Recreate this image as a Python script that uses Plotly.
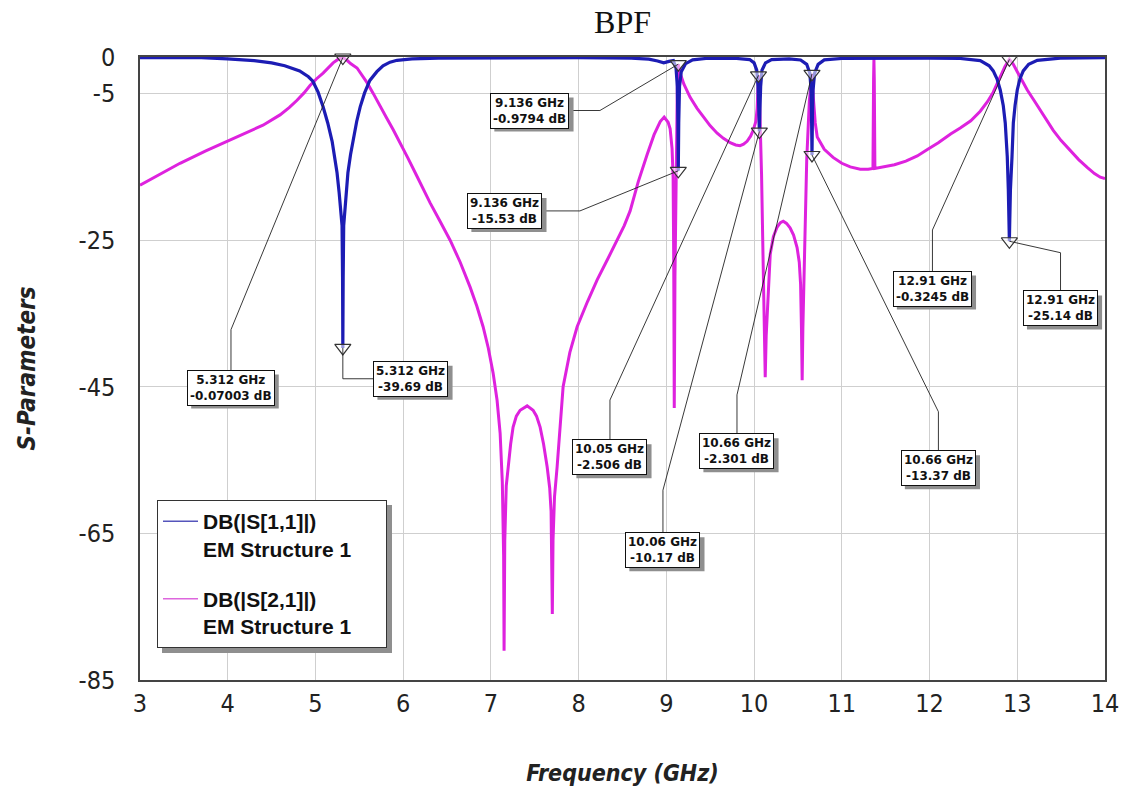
import plotly.graph_objects as go

# ---- S21 (transmission) ----
s21_freq = [3.00, 3.25, 3.456, 3.75, 4.026, 4.25, 4.402, 4.596, 4.70, 4.790, 4.87, 4.938, 5.01, 5.087,
            5.15, 5.201, 5.26, 5.312, 5.36, 5.40, 5.474, 5.53, 5.588, 5.66, 5.737, 5.81, 5.885, 5.965,
            6.05, 6.15, 6.307, 6.42, 6.535, 6.65, 6.763, 6.84, 6.911, 6.97, 7.025, 7.07, 7.105, 7.13,
            7.145, 7.150, 7.158, 7.175, 7.196, 7.225, 7.253, 7.29, 7.333, 7.413, 7.481, 7.52, 7.561,
            7.60, 7.641, 7.67, 7.686, 7.695, 7.700, 7.708, 7.725, 7.755, 7.79, 7.823, 7.90, 7.983,
            8.10, 8.211, 8.33, 8.439, 8.52, 8.587, 8.68, 8.781, 8.86, 8.93, 8.975, 9.02, 9.043, 9.065,
            9.077, 9.084, 9.090, 9.098, 9.11, 9.125, 9.136, 9.157, 9.20, 9.271, 9.35, 9.42, 9.50,
            9.579, 9.65, 9.727, 9.79, 9.84, 9.88, 9.92, 9.96, 9.99, 10.02, 10.035, 10.045, 10.05,
            10.058, 10.07, 10.085, 10.10, 10.115, 10.127, 10.138, 10.15, 10.165, 10.184, 10.22,
            10.263, 10.30, 10.332, 10.37, 10.41, 10.45, 10.49, 10.515, 10.530, 10.540, 10.548,
            10.556, 10.575, 10.60, 10.63, 10.66, 10.675, 10.697, 10.72, 10.80, 10.90, 11.00, 11.096,
            11.21, 11.30, 11.355, 11.362, 11.366, 11.370, 11.377, 11.472, 11.60, 11.73, 11.86, 11.98,
            12.10, 12.24, 12.35, 12.47, 12.578, 12.66, 12.726, 12.806, 12.86, 12.91, 12.95, 13.00,
            13.06, 13.114, 13.19, 13.262, 13.34, 13.41, 13.50, 13.604, 13.70, 13.80, 13.88, 13.946,
            14.00]
s21_db = [-17.5, -15.8, -14.5, -12.8, -11.3, -10.1, -9.3, -7.9, -6.9, -5.9, -4.9, -3.9, -3.0, -2.2,
          -1.4, -0.8, -0.3, -0.07003, -0.45, -0.9, -1.5, -2.4, -3.5, -5.0, -6.8, -8.3, -9.9, -11.7,
          -13.7, -16.1, -19.9, -22.4, -25.0, -28.0, -31.4, -34.0, -36.8, -39.7, -43.1, -46.8, -51.3, -58.0,
          -68.0, -81.0, -66.0, -58.5, -55.9, -52.8, -50.5, -49.0, -48.2, -47.6, -48.2, -49.0, -50.5,
          -52.8, -55.9, -58.8, -62.0, -68.0, -76.0, -66.0, -60.0, -55.9, -50.0, -45.0, -40.3, -36.8,
          -33.4, -30.4, -27.6, -25.0, -23.0, -21.0, -17.0, -13.3, -10.6, -8.8, -8.2, -8.9, -9.8, -12.5,
          -16.5, -28.0, -47.9, -30.0, -14.0, -4.0, -0.9794, -2.2, -3.7, -5.5, -7.0, -8.2, -9.4,
          -10.4, -11.1, -11.7, -12.0, -12.1, -11.9, -11.5, -10.8, -10.0, -8.8, -7.0, -4.5, -2.506,
          -4.0, -9.0, -16.0, -26.0, -36.0, -43.7, -38.0, -34.5, -30.0, -26.9, -24.5,
          -23.2, -22.6, -22.4, -22.7, -23.3, -24.3, -26.0, -28.0, -31.0, -37.0, -44.1,
          -37.0, -25.0, -14.0, -6.0, -2.301, -5.5, -9.0, -10.9, -12.6, -13.7, -14.5, -15.0,
          -15.3, -15.3, -15.2, -3.0, -0.3, -3.0, -15.2, -15.0, -14.7, -14.2, -13.5, -12.6,
          -11.7, -10.5, -9.7, -8.7, -7.4, -6.1, -4.8, -2.7, -1.3, -0.3245, -0.9, -2.0,
          -3.3, -4.5, -5.9, -7.3, -8.7, -10.0, -11.4, -12.8, -14.0, -15.1, -15.9, -16.4,
          -16.6]

# ---- S11 (reflection) ----
s11_freq = [3.00, 3.70, 4.00, 4.30, 4.50, 4.65, 4.82, 4.92, 4.97, 5.03, 5.087, 5.14, 5.19, 5.22, 5.246,
            5.27, 5.29, 5.303, 5.309, 5.312, 5.316, 5.322, 5.335, 5.352, 5.37, 5.40, 5.43, 5.47, 5.51,
            5.56, 5.62, 5.70, 5.77, 5.85, 5.93, 6.10, 6.40, 7.00, 8.00, 8.60, 8.80, 8.90, 8.97, 9.03,
            9.08, 9.11, 9.125, 9.132, 9.136, 9.141, 9.15, 9.17, 9.22, 9.30, 9.45, 9.80, 9.95, 10.00,
            10.03, 10.045, 10.053, 10.06, 10.067, 10.075, 10.09, 10.13, 10.20, 10.40, 10.53, 10.60,
            10.635, 10.65, 10.655, 10.66, 10.665, 10.672, 10.69, 10.73, 10.80, 11.00, 12.00, 12.35,
            12.578, 12.68, 12.726, 12.77, 12.806, 12.84, 12.863, 12.886, 12.898, 12.905, 12.91,
            12.915, 12.922, 12.94, 12.955, 12.975, 13.00, 13.03, 13.068, 13.13, 13.228, 13.49, 14.00]
s11_db = [-0.1, -0.1, -0.25, -0.5, -0.8, -1.2, -1.9, -2.7, -3.3, -4.8, -6.8, -9.0, -11.5, -13.5, -15.8,
          -18.5, -21.0, -23.0, -30.0, -39.69, -30.0, -23.0, -21.0, -18.5, -15.8, -13.3, -11.3, -8.8, -6.8,
          -4.9, -3.2, -2.0, -1.2, -0.7, -0.45, -0.25, -0.15, -0.1, -0.1, -0.15, -0.3, -0.55, -0.8, -0.6,
          -0.5, -1.5, -4.0, -9.0, -15.53, -9.0, -4.0, -2.0, -0.9, -0.4, -0.2, -0.2, -0.35, -0.8,
          -1.8, -4.0, -7.0, -10.17, -7.0, -4.0, -1.8, -0.8, -0.35, -0.25, -0.4, -1.0,
          -2.2, -4.5, -8.0, -13.37, -8.0, -4.5, -2.2, -1.0, -0.4, -0.2, -0.15, -0.2,
          -0.5, -1.2, -1.9, -3.0, -4.5, -6.6, -9.0, -13.6, -18.1, -22.0, -25.14,
          -22.0, -18.1, -13.6, -9.0, -6.6, -4.5, -3.0, -1.9, -1.0, -0.45, -0.15, -0.1]

# ---- markers ----
marker_freq = [5.312, 5.312, 9.136, 9.136, 10.05, 10.06, 10.66, 10.66, 12.91, 12.91]
marker_db = [-0.07003, -39.69, -0.9794, -15.53, -2.506, -10.17, -2.301, -13.37, -0.3245, -25.14]

x_ticks = [3, 4, 5, 6, 7, 8, 9, 10, 11, 12, 13, 14]
y_ticks = [0, -5, -25, -45, -65, -85]

# Readout box centre and leader elbow for each marker, in axis units
label_layout = [
    (4.037, -45.1, 4.037, -37.2),
    (6.089, -43.9, 5.312, -43.9),
    (7.445, -7.3, 8.243, -7.3),
    (7.160, -21.0, 8.015, -21.0),
    (8.357, -54.6, 8.357, -46.8),
    (8.961, -67.3, 8.961, -59.1),
    (9.805, -53.8, 9.805, -46.1),
    (12.101, -56.1, 12.101, -48.4),
    (12.033, -31.6, 12.033, -23.6),
    (13.493, -34.3, 13.493, -26.7),
]

BLUE = "#1c1cb4"
MAGENTA = "#de22de"
NARROW = "DejaVu Sans Condensed, Liberation Sans Narrow, sans-serif"
LABEL_SIZE = 12
SHADOW = "#8f8f8f"

# approximate advance widths (em) of DejaVu Sans Bold, used to size the readout shadows
ADV = {"0": .696, "1": .696, "2": .696, "3": .696, "4": .696, "5": .696, "6": .696, "7": .696,
       "8": .696, "9": .696, ".": .380, " ": .348, "G": .821, "H": .837, "z": .592, "-": .415,
       "d": .716, "B": .762}


def text_px(s):
    return sum(ADV.get(c, .65) for c in s) * LABEL_SIZE


fig = go.Figure()

fig.add_trace(go.Scatter(x=s21_freq, y=s21_db, mode="lines",
                         line=dict(color=MAGENTA, width=3), showlegend=False, hoverinfo="skip"))
fig.add_trace(go.Scatter(x=s11_freq, y=s11_db, mode="lines",
                         line=dict(color=BLUE, width=3.2), showlegend=False, hoverinfo="skip"))

# legend entries with thin line samples
pad = "&nbsp;" * 5
fig.add_trace(go.Scatter(x=[None], y=[None], mode="lines",
                         name="DB(|S[1,1]|)<br>EM Structure 1" + pad,
                         line=dict(color="#5555bb", width=1.5), legendgroup="a"))
fig.add_trace(go.Scatter(x=[None], y=[None], mode="lines",
                         name="DB(|S[2,1]|)<br>EM Structure 1" + pad,
                         line=dict(color="#dd66dd", width=1.5), legendgroup="b"))

shapes = []
annotations = []
for (fx, fy, ex, ey), mf, md in zip(label_layout, marker_freq, marker_db):
    line1 = f"{mf:.4g} GHz"
    line2 = f"{md:.4g} dB"
    shapes.append(dict(type="path", xref="x", yref="y", layer="above",
                       path=f"M{fx},{fy} L{ex},{ey} L{mf},{md}",
                       line=dict(color="#222222", width=0.9)))
    # drop shadow of the readout box, offset down-right
    w = max(text_px(line1), text_px(line2)) + 6
    h = 34
    shapes.append(dict(type="rect", xref="x", yref="y", layer="above",
                       xsizemode="pixel", ysizemode="pixel", xanchor=fx, yanchor=fy,
                       x0=-w / 2 + 4, x1=w / 2 + 4, y0=-h / 2 - 4, y1=h / 2 - 4,
                       fillcolor=SHADOW, line=dict(width=0)))
    annotations.append(dict(x=fx, y=fy, xref="x", yref="y", text=f"{line1}<br>{line2}",
                            showarrow=False, align="center", borderwidth=1, borderpad=2,
                            bgcolor="white", bordercolor="#111111",
                            font=dict(family="DejaVu Sans", size=LABEL_SIZE, color="#111111",
                                      weight="bold")))

fig.add_trace(go.Scatter(x=marker_freq, y=marker_db, mode="markers", showlegend=False,
                         hoverinfo="skip", cliponaxis=False,
                         marker=dict(symbol="triangle-down", size=14,
                                     color="rgba(255,255,255,0.55)",
                                     line=dict(color="#333333", width=1.2))))

# plot area in pixels: x 140..1105, y 57..680
W, H = 1125, 790
L, R, T, B = 140, 20, 57, 110
pw, ph = W - L - R, H - T - B


def px(xp):
    return (xp - L) / pw


def py(yp):
    return 1 - (yp - T) / ph


# legend drop shadow
shapes.append(dict(type="rect", xref="paper", yref="paper", layer="above",
                   x0=px(162), x1=px(392), y0=py(653), y1=py(505),
                   fillcolor=SHADOW, line=dict(width=0)))

fig.update_layout(
    width=W, height=H,
    margin=dict(l=L, r=R, t=T, b=B, autoexpand=False),
    paper_bgcolor="white", plot_bgcolor="white",
    title=dict(text="BPF", x=0.5, xref="paper", xanchor="center", y=1 - 22 / H, yanchor="middle",
               font=dict(family="Liberation Serif, Times New Roman, serif", size=32, color="#111111")),
    xaxis=dict(range=[3, 14], tickvals=x_ticks, ticktext=[str(v) for v in x_ticks],
               showgrid=True, gridcolor="#cfcfcf", gridwidth=1, zeroline=False, automargin=False,
               showline=True, mirror=True, linecolor="#444444", linewidth=1.5,
               ticks="", tickfont=dict(family=NARROW, size=25, color="#222222"),
               title=dict(text="Frequency (GHz)", standoff=48,
                          font=dict(family=NARROW, size=23, color="#222222", style="italic", weight="bold"))),
    yaxis=dict(range=[-85, 0], tickvals=y_ticks, ticktext=[str(v) for v in y_ticks],
               showgrid=True, gridcolor="#cfcfcf", gridwidth=1, zeroline=False, automargin=False,
               showline=True, mirror=True, linecolor="#444444", linewidth=1.5,
               ticks="", ticklabelstandoff=18, tickfont=dict(family=NARROW, size=25, color="#222222"),
               title=dict(text="S-Parameters", standoff=36,
                          font=dict(family=NARROW, size=24, color="#222222", style="italic", weight="bold"))),
    legend=dict(x=px(157), y=py(500), xanchor="left", yanchor="top",
                bgcolor="white", bordercolor="#333333", borderwidth=1,
                valign="top", tracegroupgap=20, itemwidth=35,
                font=dict(family="Liberation Sans, Arial, sans-serif", size=21, color="#111111", weight="bold")),
    shapes=shapes,
    annotations=annotations,
)

fig.write_html("out.html")
